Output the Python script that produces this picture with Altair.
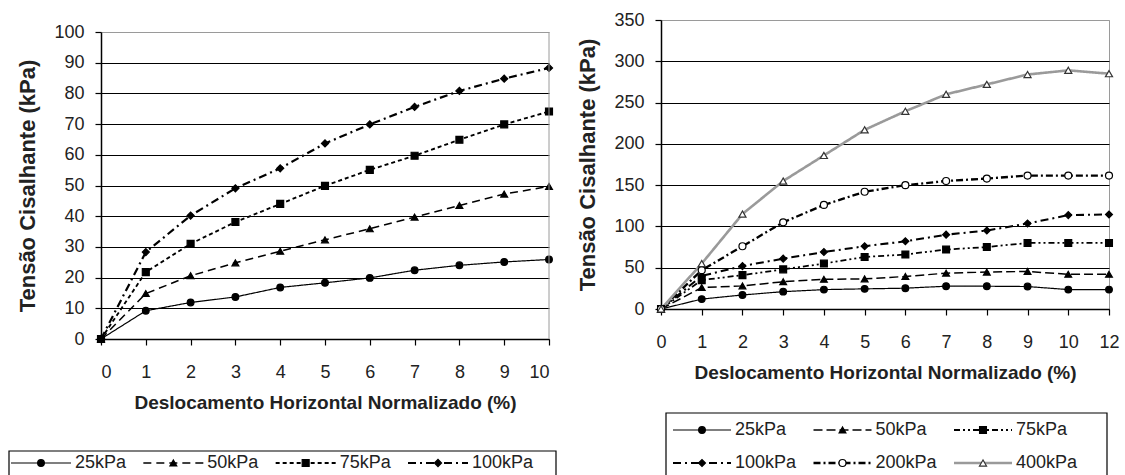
import altair as alt
import pandas as pd

FONT = "Liberation Sans"
TXT = "#222222"
BORDER = "#9a9a9a"

# ---------------- data ----------------
left_x = [0, 1, 2, 3, 4, 5, 6, 7, 8, 9, 10]
left_series = ["25kPa", "50kPa", "75kPa", "100kPa"]
left_25 = [0, 9.2, 11.9, 13.7, 16.8, 18.3, 19.9, 22.4, 24.0, 25.1, 25.9]
left_50 = [0, 14.8, 20.6, 24.8, 28.6, 32.3, 35.9, 39.7, 43.5, 47.2, 49.7]
left_75 = [0, 21.8, 31.0, 38.1, 44.0, 49.9, 55.1, 59.7, 64.9, 69.9, 74.1]
left_100 = [0, 28.3, 40.2, 49.1, 55.6, 63.7, 69.9, 75.6, 80.8, 84.8, 88.3]
left_y_ticks = [0, 10, 20, 30, 40, 50, 60, 70, 80, 90, 100]

right_x = [0, 1, 2, 3, 4, 5, 6, 7, 8, 9, 10, 12]
right_series = ["25kPa", "50kPa", "75kPa", "100kPa", "200kPa", "400kPa"]
right_25 = [0, 12, 17, 21, 23.5, 24.4, 25.2, 27.6, 27.6, 27.2, 23.5, 23.5]
right_50 = [0, 26, 28, 33, 36, 36.5, 39.4, 43.4, 44.7, 45.5, 42, 42]
right_75 = [0, 35, 41, 48, 55, 63, 66, 72, 75, 80, 80, 80]
right_100 = [0, 40, 52, 61, 69, 76, 82, 90, 95, 103.5, 113.7, 114.5]
right_200 = [0, 47, 76, 105, 126, 142, 150, 155, 158, 161.6, 161.6, 161.6]
right_400 = [0, 55, 115, 155, 186, 217, 239.5, 260, 272, 284, 289, 285]
right_y_ticks = [0, 50, 100, 150, 200, 250, 300, 350]

y_title = "Tensão Cisalhante (kPa)"
x_title = "Deslocamento Horizontal Normalizado (%)"


def long_df(xs, series, values):
    rows = []
    for s, vals in zip(series, values):
        for x, v in zip(xs, vals):
            rows.append({"x": x, "y": v, "series": s})
    return pd.DataFrame(rows)


def styles(series, dashes, widths, colors, shapes, fills, strokes, sizes):
    return dict(
        color=alt.Color("series:N", scale=alt.Scale(domain=series, range=colors), legend=None),
        strokeDash=alt.StrokeDash("series:N", scale=alt.Scale(domain=series, range=dashes), legend=None),
        strokeWidth=alt.StrokeWidth("series:N", scale=alt.Scale(domain=series, range=widths), legend=None),
        shape=alt.Shape("series:N", scale=alt.Scale(domain=series, range=shapes), legend=None),
        fill=alt.Fill("series:N", scale=alt.Scale(domain=series, range=fills), legend=None),
        stroke=alt.Stroke("series:N", scale=alt.Scale(domain=series, range=strokes), legend=None),
        size=alt.Size("series:N", scale=alt.Scale(domain=series, range=sizes), legend=None),
    )


def panel(df, series, st, xenc, yenc, w, h, leg_cols, leg_rows, leg_x, leg_y, box, line_len, text_dx,
          right_border=None):
    base = alt.Chart(df)
    lines = base.mark_line(strokeCap="butt").encode(
        x=xenc, y=yenc, color=st["color"], strokeDash=st["strokeDash"], strokeWidth=st["strokeWidth"]
    )
    pts = base.mark_point(filled=True, opacity=1, strokeWidth=1.2).encode(
        x=xenc, y=yenc, shape=st["shape"], fill=st["fill"], stroke=st["stroke"], size=st["size"]
    )
    main = alt.layer(lines, pts)

    leg = pd.DataFrame({"series": series, "col": leg_cols, "row": leg_rows})
    lb = alt.Chart(leg)
    lx = alt.X("col:Q", scale=alt.Scale(domain=[0, max(leg_cols)], range=leg_x, nice=False, zero=False), axis=None)
    if max(leg_rows) > 0:
        ly = alt.Y("row:Q", scale=alt.Scale(domain=[0, max(leg_rows)], range=leg_y, nice=False, zero=False), axis=None)
    else:
        ly = alt.value(leg_y[0])
    lx2 = alt.X2("col:Q")
    leg_line = lb.mark_rule(x2Offset=line_len, strokeCap="butt").encode(
        x=lx, x2=lx2, y=ly, color=st["color"], strokeDash=st["strokeDash"], strokeWidth=st["strokeWidth"]
    )
    leg_pt = lb.mark_point(filled=True, opacity=1, strokeWidth=1.2, xOffset=line_len / 2).encode(
        x=lx, y=ly, shape=st["shape"], fill=st["fill"], stroke=st["stroke"], size=st["size"]
    )
    leg_txt = lb.mark_text(align="left", baseline="middle", xOffset=text_dx, font=FONT, fontSize=18, color=TXT).encode(
        x=lx, y=ly, text="series:N"
    )
    box_df = pd.DataFrame({"k": [0]})
    leg_box = alt.Chart(box_df).mark_rect(fillOpacity=0, stroke="black", strokeWidth=1.2).encode(
        x=alt.value(box[0]), x2=alt.value(box[1]), y=alt.value(box[2]), y2=alt.value(box[3])
    )
    layers = [main, leg_box, leg_line, leg_pt, leg_txt]
    if right_border is not None:
        # right-hand frame line of the plot area (the top one is the grey top gridline)
        layers.append(
            alt.Chart(box_df).mark_rule(color=BORDER, strokeWidth=1).encode(
                x=alt.value(w), y=alt.value(right_border[0]), y2=alt.value(right_border[1])
            )
        )
    return alt.layer(*layers).resolve_scale(
        x="independent", y="independent"
    ).properties(width=w, height=h)


# ---------------- left panel ----------------
# its plot starts 12 px lower than the right one: the y range leaves that room at the top
LEFT_TOP = 12
LEFT_H = 307
left_df = long_df(left_x, left_series, [left_25, left_50, left_75, left_100])
left_st = styles(
    left_series,
    dashes=[[1, 0], [8, 5], [4, 3], [8, 4, 2, 4]],
    widths=[1.2, 2.2, 2.2, 2.6],
    colors=["black", "black", "black", "black"],
    shapes=["circle", "triangle-up", "square", "diamond"],
    fills=["black", "black", "black", "black"],
    strokes=["black", "black", "black", "black"],
    sizes=[45, 50, 40, 60],
)
left_xenc = alt.X(
    "x:Q",
    scale=alt.Scale(domain=[0, 10], nice=False),
    axis=alt.Axis(values=left_x, format="d", title=x_title, grid=False, labelPadding=18, titlePadding=12),
)
left_yenc = alt.Y(
    "y:Q",
    scale=alt.Scale(domain=[0, 100], nice=False, range=[LEFT_TOP + LEFT_H, LEFT_TOP]),
    axis=alt.Axis(values=left_y_ticks, title=y_title, grid=True, labelPadding=11, titlePadding=14,
                  titleFontSize=22,
                  gridColor={"expr": "datum.value == 100 ? '%s' : 'black'" % BORDER}),
)
left = panel(
    left_df, left_series, left_st, left_xenc, left_yenc, 448, LEFT_TOP + LEFT_H,
    leg_cols=[0, 1, 2, 3], leg_rows=[0, 0, 0, 0],
    leg_x=[-90, 307], leg_y=[443], box=[-92, 455, 431, 467], line_len=60, text_dx=64,
    right_border=[LEFT_TOP, LEFT_TOP + LEFT_H],
).properties(view=alt.ViewBackground(stroke="transparent"))

# ---------------- right panel ----------------
right_df = long_df(right_x, right_series, [right_25, right_50, right_75, right_100, right_200, right_400])
right_st = styles(
    right_series,
    dashes=[[1, 0], [9, 4], [6, 3, 2, 3, 2, 3], [8, 4, 2, 4], [7, 3, 2, 3], [1, 0]],
    widths=[1.2, 2.6, 2.6, 2.6, 2.0, 3.5],
    colors=["black", "black", "black", "black", "black", "#9a9a9a"],
    shapes=["circle", "triangle-up", "square", "diamond", "circle", "triangle-up"],
    fills=["black", "black", "black", "black", "white", "white"],
    strokes=["black", "black", "black", "black", "black", "#333333"],
    sizes=[45, 50, 40, 60, 40, 55],
)
right_xenc = alt.X(
    "x:O",
    scale=alt.Scale(type="point", padding=0, domain=right_x),
    axis=alt.Axis(title=x_title, grid=False, labelAngle=0, labelPadding=18, titlePadding=12),
)
right_yenc = alt.Y(
    "y:Q",
    scale=alt.Scale(domain=[0, 350], nice=False),
    axis=alt.Axis(values=right_y_ticks, title=y_title, grid=True, labelPadding=11, titlePadding=14,
                  titleFontSize=22,
                  gridColor={"expr": "datum.value == 350 ? '%s' : 'black'" % BORDER}),
)
right = panel(
    right_df, right_series, right_st, right_xenc, right_yenc, 448, 289,
    leg_cols=[0, 1, 2, 0, 1, 2], leg_rows=[0, 0, 0, 1, 1, 1],
    leg_x=[12, 293], leg_y=[410, 443], box=[5, 446, 393, 463], line_len=58, text_dx=62,
)

chart = alt.hconcat(left, right, spacing=18).resolve_scale(
    color="independent", strokeDash="independent", strokeWidth="independent",
    shape="independent", fill="independent", stroke="independent", size="independent",
).properties(
    padding={"left": 7, "top": 10, "right": 0, "bottom": 0}
).configure_view(
    stroke=BORDER, strokeWidth=1
).configure_axis(
    domainColor="black", domainWidth=1.5, tickColor="black", tickWidth=1.2, tickSize=6,
    labelFont=FONT, labelFontSize=18, labelColor=TXT,
    titleFont=FONT, titleFontSize=19, titleFontWeight="bold", titleColor=TXT,
    gridWidth=1.2,
)

chart.save("out.html", embed_options={"renderer": "svg", "actions": False})
